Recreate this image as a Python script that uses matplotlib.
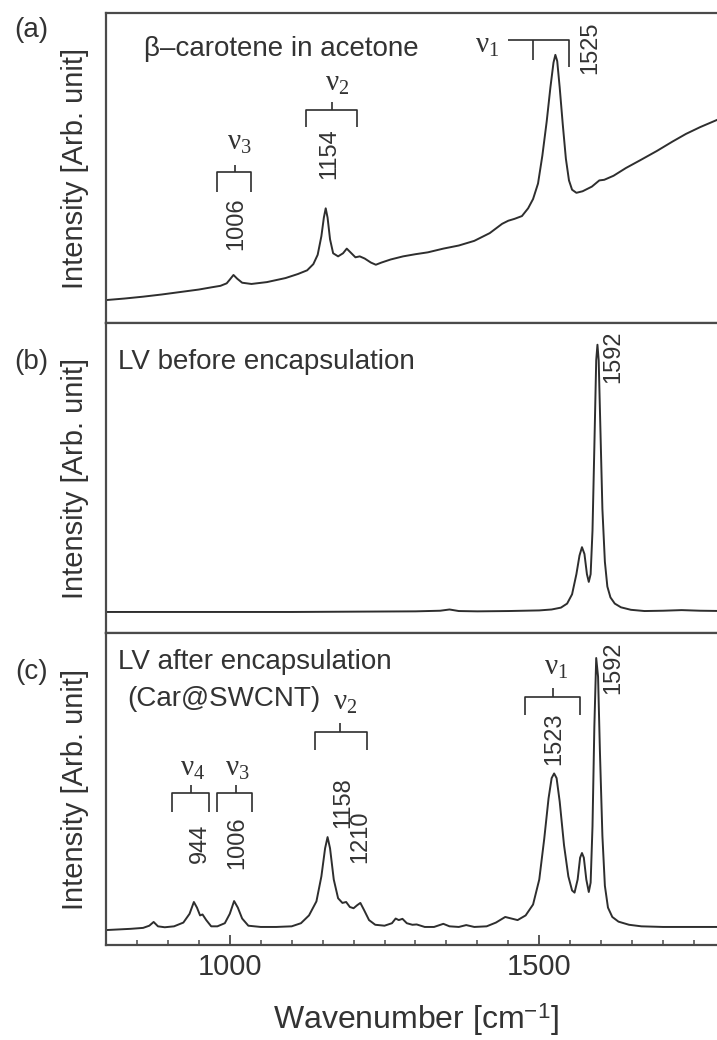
"""
Raman spectra of beta-carotene, LV nanotubes and Car@SWCNT, stacked in three panels.
"""

import matplotlib
matplotlib.use("Agg")
import matplotlib.pyplot as plt
from matplotlib.ticker import MultipleLocator

plt.rcParams['font.family'] = ['Liberation Sans', 'DejaVu Sans']
plt.rcParams['mathtext.fontset'] = 'custom'
plt.rcParams['mathtext.rm'] = 'Liberation Serif'
plt.rcParams['mathtext.it'] = 'Liberation Serif'
plt.rcParams['mathtext.sf'] = 'Liberation Sans'

# ---- spectrum data (wavenumber in cm^-1, intensity in arb. units) ----
a_wavenumber = [800, 830, 860, 890, 920, 950, 970, 985, 995, 1000, 1006, 1012, 1020, 1035,
                1060, 1090, 1110, 1125, 1135, 1142, 1148, 1152, 1155, 1158, 1162, 1167,
                1175, 1183, 1189, 1195, 1203, 1210, 1218, 1228, 1236, 1245, 1260, 1280,
                1300, 1320, 1345, 1370, 1395, 1420, 1440, 1450, 1460, 1472, 1482, 1490,
                1498, 1505, 1512, 1518, 1523, 1526, 1529, 1533, 1538, 1543, 1548, 1553,
                1560, 1570, 1585, 1597, 1605, 1620, 1640, 1663, 1690, 1715, 1737, 1760,
                1787, 1800]
a_intensity = [0.074, 0.079, 0.085, 0.092, 0.100, 0.108, 0.115, 0.120, 0.128, 0.140, 0.155,
               0.143, 0.130, 0.126, 0.132, 0.145, 0.158, 0.170, 0.190, 0.220, 0.280, 0.340,
               0.370, 0.340, 0.270, 0.225, 0.215, 0.225, 0.240, 0.228, 0.212, 0.215, 0.208,
               0.195, 0.188, 0.195, 0.205, 0.215, 0.222, 0.228, 0.240, 0.250, 0.265, 0.290,
               0.320, 0.330, 0.336, 0.345, 0.370, 0.400, 0.450, 0.540, 0.650, 0.760, 0.840,
               0.865, 0.845, 0.760, 0.640, 0.530, 0.460, 0.430, 0.420, 0.425, 0.440, 0.460,
               0.462, 0.475, 0.500, 0.525, 0.555, 0.585, 0.610, 0.632, 0.655, 0.665]

b_wavenumber = [800, 900, 1000, 1100, 1200, 1300, 1340, 1355, 1370, 1400, 1450, 1500, 1520,
                1535, 1545, 1553, 1560, 1565, 1569, 1573, 1577, 1580, 1583, 1586, 1589,
                1592, 1594, 1596, 1599, 1602, 1606, 1610, 1615, 1622, 1632, 1648, 1670,
                1700, 1730, 1760, 1800]
b_intensity = [0.068, 0.068, 0.068, 0.068, 0.069, 0.070, 0.072, 0.076, 0.071, 0.070, 0.071,
               0.073, 0.076, 0.082, 0.095, 0.125, 0.190, 0.250, 0.277, 0.255, 0.190, 0.165,
               0.190, 0.330, 0.600, 0.880, 0.930, 0.880, 0.640, 0.400, 0.230, 0.150, 0.115,
               0.095, 0.083, 0.075, 0.071, 0.072, 0.074, 0.072, 0.071]

c_wavenumber = [800, 820, 840, 860, 870, 877, 884, 895, 910, 925, 935, 942, 947, 952, 956,
                962, 970, 980, 992, 1000, 1007, 1013, 1020, 1030, 1050, 1075, 1100, 1115,
                1128, 1140, 1148, 1154, 1158, 1162, 1168, 1175, 1182, 1188, 1194, 1200,
                1206, 1211, 1217, 1225, 1235, 1250, 1262, 1268, 1273, 1279, 1286, 1295,
                1302, 1315, 1330, 1345, 1355, 1370, 1382, 1395, 1415, 1430, 1445, 1455,
                1465, 1478, 1490, 1500, 1508, 1515, 1520, 1524, 1528, 1533, 1540, 1547,
                1553, 1557, 1562, 1566, 1569, 1572, 1576, 1580, 1583, 1586, 1589, 1592,
                1595, 1598, 1602, 1606, 1611, 1618, 1628, 1645, 1665, 1700, 1750, 1800]
c_intensity = [0.048, 0.050, 0.052, 0.055, 0.062, 0.074, 0.060, 0.057, 0.060, 0.072, 0.100,
               0.138, 0.120, 0.095, 0.098, 0.080, 0.060, 0.060, 0.070, 0.100, 0.141, 0.120,
               0.085, 0.062, 0.058, 0.058, 0.060, 0.070, 0.095, 0.140, 0.220, 0.310, 0.346,
               0.310, 0.210, 0.150, 0.135, 0.138, 0.122, 0.118, 0.128, 0.135, 0.112, 0.080,
               0.065, 0.062, 0.070, 0.085, 0.080, 0.084, 0.070, 0.065, 0.066, 0.058, 0.058,
               0.068, 0.060, 0.058, 0.064, 0.058, 0.060, 0.072, 0.090, 0.085, 0.080, 0.095,
               0.130, 0.210, 0.340, 0.470, 0.535, 0.550, 0.535, 0.460, 0.320, 0.220, 0.175,
               0.168, 0.210, 0.280, 0.295, 0.280, 0.210, 0.170, 0.200, 0.380, 0.700, 0.920,
               0.860, 0.620, 0.350, 0.190, 0.120, 0.090, 0.075, 0.065, 0.060, 0.058, 0.058,
               0.058]

panel_letters = ['(a)', '(b)', '(c)']

# ---- annotations: (text, x in cm^-1, y as fraction of panel height) ----
a_titles = [('β–carotene in acetone', 862, 0.885)]
b_titles = [('LV before encapsulation', 820, 0.874)]
c_titles = [('LV after encapsulation', 820, 0.907), ('(Car@SWCNT)', 834, 0.79)]

a_peaks = [('1525', 1582, 0.887), ('1154', 1161, 0.548), ('1006', 1010, 0.319)]
b_peaks = [('1592', 1619, 0.89)]
c_peaks = [('1592', 1619, 0.89), ('1523', 1525, 0.66), ('1158', 1184, 0.458),
           ('1210', 1210, 0.346), ('944', 952, 0.327), ('1006', 1012, 0.327)]

# mode labels: (text, x, y)
a_modes = [(r'$\nu_1$', 1416, 0.897), (r'$\nu_2$', 1173, 0.774), (r'$\nu_3$', 1015, 0.584)]
b_modes = []
c_modes = [(r'$\nu_1$', 1527, 0.89), (r'$\nu_2$', 1187, 0.78), (r'$\nu_4$', 940, 0.567),
           (r'$\nu_3$', 1012, 0.567)]

# brackets: (left x, right x, stem x, top y, foot y, stem end y)
a_brackets = [(1123, 1206, 1165, 0.687, 0.632, 0.713),
              (979, 1035, 1008, 0.487, 0.423, 0.510)]
c_brackets = [(1137, 1222, 1178, 0.683, 0.625, 0.712),
              (907, 966, 937, 0.487, 0.426, 0.513),
              (979, 1036, 1010, 0.487, 0.426, 0.513),
              (1477, 1566, 1523, 0.795, 0.737, 0.824)]

LINE = '#2e2e2e'
TEXT = '#333333'


def draw_bracket(ax, left, right, stem, top, foot, stem_top):

    """Draws a square bracket that groups one vibrational mode.

    Args:
      ax: The axes to draw on.
      left, right: Wavenumbers of the two feet.
      stem: Wavenumber of the short centre stem.
      top, foot, stem_top: Heights (panel fraction) of the bar, feet and stem end.

    Returns:
      None
    """
    kw = dict(color=LINE, lw=1.2, solid_capstyle='butt', clip_on=False)
    ax.plot([left, left, right, right], [foot, top, top, foot], **kw)
    ax.plot([stem, stem], [top, stem_top], **kw)


fig = plt.figure(figsize=(7.17, 10.4), dpi=100)

# panel boxes in figure fractions (left, bottom, width, height)
boxes = [(0.1478, 0.6894, 0.8633, 0.2981),
         (0.1478, 0.3913, 0.8633, 0.2981),
         (0.1478, 0.0913, 0.8633, 0.3000)]
letter_y = [0.971, 0.652, 0.354]

spectra = [(a_wavenumber, a_intensity), (b_wavenumber, b_intensity), (c_wavenumber, c_intensity)]
titles = [a_titles, b_titles, c_titles]
peaks = [a_peaks, b_peaks, c_peaks]
modes = [a_modes, b_modes, c_modes]
brackets = [a_brackets, [], c_brackets]

axes = []
for i, box in enumerate(boxes):
    ax = fig.add_axes(box)
    axes.append(ax)
    x, y = spectra[i]
    ax.plot(x, y, color=LINE, lw=1.4)
    ax.set_xlim(800, 1800)
    ax.set_ylim(0, 1)
    ax.set_yticks([])
    for side in ['left', 'top', 'bottom']:
        ax.spines[side].set_color('#4a4a4a')
        ax.spines[side].set_linewidth(1.6)
    ax.spines['right'].set_visible(False)

    ax.set_ylabel('Intensity [Arb. unit]', fontsize=21, color=TEXT)
    ax.yaxis.set_label_coords(-0.028, 0.5)

    for text, tx, ty in titles[i]:
        ax.text(tx, ty, text, fontsize=20, color=TEXT, ha='left', va='center')
    for text, tx, ty in peaks[i]:
        ax.text(tx, ty, text, fontsize=17, color=TEXT, rotation=90,
                ha='center', va='center')
    for text, tx, ty in modes[i]:
        ax.text(tx, ty, text, fontsize=21, color=TEXT, ha='center', va='center',
                math_fontfamily='custom')
    for br in brackets[i]:
        draw_bracket(ax, *br)

    fig.text(0.044, letter_y[i], panel_letters[i], fontsize=20, color=TEXT,
             ha='center', va='center')

    if i < 2:
        ax.tick_params(axis='x', which='both', bottom=False, labelbottom=False)

# the nu1 bracket in (a) has its stem running left, towards the label
axes[0].plot([1450, 1548, 1548], [0.913, 0.913, 0.826], color=LINE, lw=1.2,
             solid_capstyle='butt')
axes[0].plot([1490, 1490], [0.913, 0.848], color=LINE, lw=1.2, solid_capstyle='butt')

# x axis only on the bottom panel
ax = axes[2]
ax.xaxis.set_major_locator(MultipleLocator(500))
ax.xaxis.set_minor_locator(MultipleLocator(50))
ax.tick_params(axis='x', which='major', direction='in', length=7.5, width=1.3,
               labelsize=21, pad=6, colors='#4a4a4a', labelcolor=TEXT)
ax.tick_params(axis='x', which='minor', direction='in', length=3.5, width=1.1,
               colors='#4a4a4a')
ax.set_xlabel(r'Wavenumber [cm$^{\mathsf{-1}}$]', fontsize=23, color=TEXT,
              labelpad=14, math_fontfamily='custom')

fig.savefig('out.png', dpi=100)
